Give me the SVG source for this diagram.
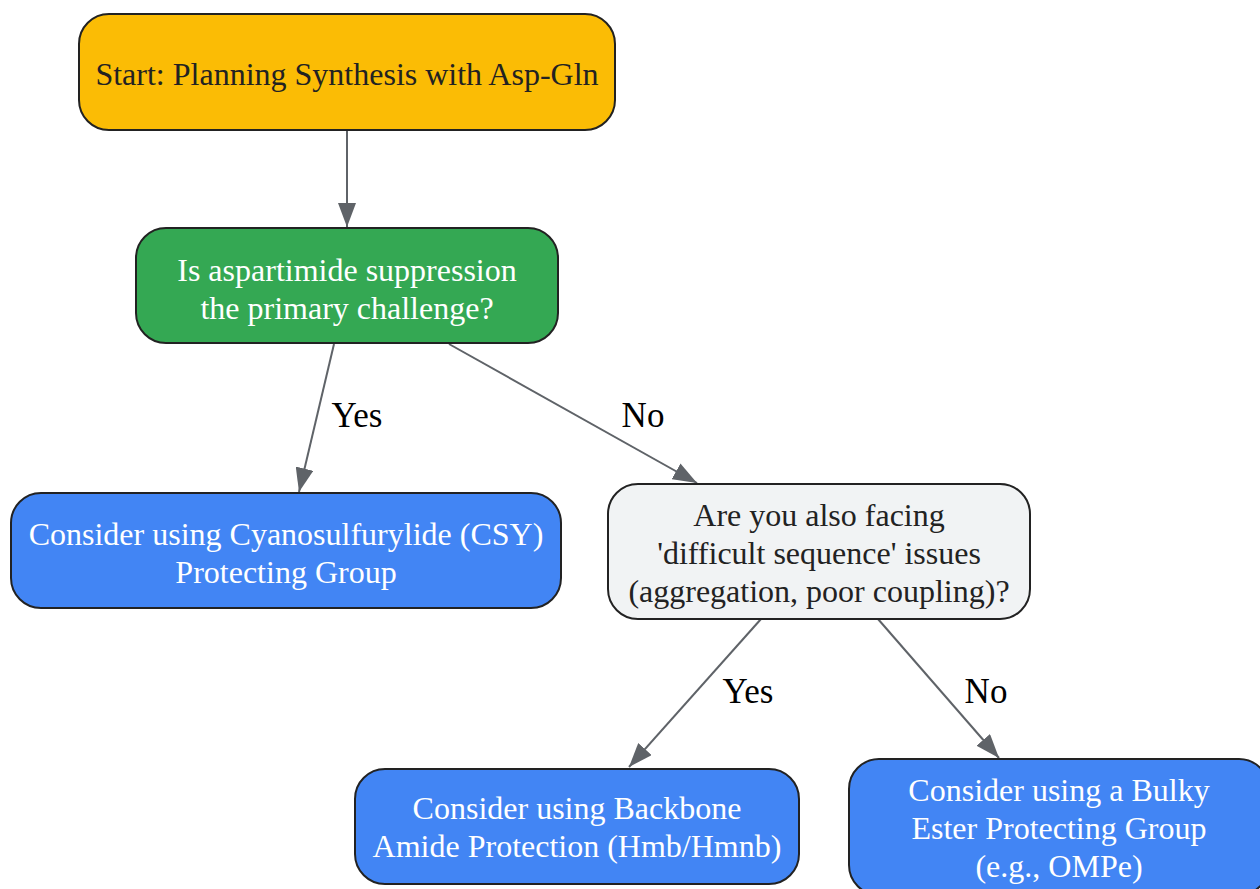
<svg xmlns="http://www.w3.org/2000/svg" width="1260" height="889" viewBox="0 0 1260 889">
<style>
.n{stroke:#222;stroke-width:2}
.t{font-family:'Liberation Serif',Tinos,'Times New Roman','DejaVu Serif',serif;font-size:32px;text-anchor:middle}
.w{fill:#fff}
.d{fill:#222}
.e{stroke:#5F6368;stroke-width:2;fill:none;marker-end:url(#ah)}
.l{font-family:'Liberation Serif',Tinos,'Times New Roman','DejaVu Serif',serif;font-size:35px;fill:#000;text-anchor:middle}
</style>
<defs>
<marker id="ah" viewBox="0 0 10 10" refX="10" refY="5" markerWidth="24" markerHeight="18" markerUnits="userSpaceOnUse" orient="auto" preserveAspectRatio="none">
<path d="M0,0 L10,5 L0,10 z" fill="#5F6368"/>
</marker>
</defs>
<rect width="1260" height="889" fill="#fff"/>
<g id="connectors">
<line class="e" x1="347" y1="130" x2="347" y2="227"/>
<line class="e" x1="334" y1="344" x2="299" y2="492"/>
<line class="e" x1="449" y1="344" x2="697" y2="483"/>
<line class="e" x1="761" y1="619" x2="629" y2="767"/>
<line class="e" x1="878" y1="619" x2="999" y2="758"/>
<text class="l" x="357" y="427">Yes</text>
<text class="l" x="643" y="427">No</text>
<text class="l" x="748" y="703">Yes</text>
<text class="l" x="986" y="703">No</text>
</g>
<g id="start">
<rect class="n" x="79" y="14" width="536" height="116" rx="30" fill="#FBBC05"/>
<text class="t d" x="347" y="85">Start: Planning Synthesis with Asp-Gln</text>
</g>
<g id="q1">
<rect class="n" x="136" y="228" width="422" height="115" rx="30" fill="#34A853"/>
<text class="t w" x="347" y="281">Is aspartimide suppression</text>
<text class="t w" x="347" y="319">the primary challenge?</text>
</g>
<g id="csy">
<rect class="n" x="11" y="493" width="550" height="115" rx="30" fill="#4285F4"/>
<text class="t w" x="286" y="545">Consider using Cyanosulfurylide (CSY)</text>
<text class="t w" x="286" y="583">Protecting Group</text>
</g>
<g id="q2">
<rect class="n" x="608" y="484" width="422" height="135" rx="30" fill="#F1F3F4"/>
<text class="t d" x="819" y="526">Are you also facing</text>
<text class="t d" x="819" y="564">'difficult sequence' issues</text>
<text class="t d" x="819" y="602">(aggregation, poor coupling)?</text>
</g>
<g id="backbone">
<rect class="n" x="355" y="769" width="444" height="115" rx="30" fill="#4285F4"/>
<text class="t w" x="577" y="819">Consider using Backbone</text>
<text class="t w" x="577" y="857">Amide Protection (Hmb/Hmnb)</text>
</g>
<g id="bulky">
<rect class="n" x="849" y="759" width="420" height="136" rx="30" fill="#4285F4"/>
<text class="t w" x="1059" y="801">Consider using a Bulky</text>
<text class="t w" x="1059" y="839">Ester Protecting Group</text>
<text class="t w" x="1059" y="877">(e.g., OMPe)</text>
</g>
</svg>
